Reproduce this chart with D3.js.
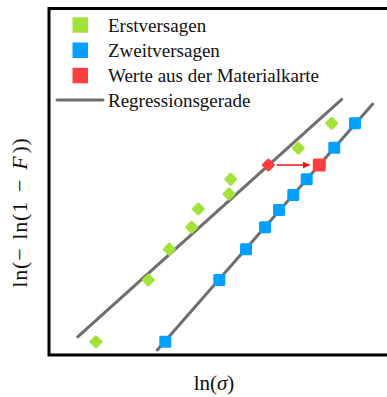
<!DOCTYPE html>
<html>
<head>
<meta charset="utf-8">
<script src="https://cdn.jsdelivr.net/npm/d3@7"></script>
<style>
  html, body { margin: 0; padding: 0; background: #fff; }
  svg { display: block; }
</style>
</head>
<body>
<script>
// Weibull plot: ln(-ln(1-F)) over ln(sigma), arbitrary units (no ticks)
const erstX = [14.16, 29.59, 35.78, 42.39, 44.34, 53.39, 53.89, 73.84, 83.69];
const erstY = [3.55, 21.39, 30.26, 36.62, 41.91, 46.24, 50.49, 59.45, 66.68];
const zweitX = [34.60, 50.53, 58.41, 64.01, 68.14, 72.36, 76.31, 84.45, 90.56];
const zweitY = [3.55, 21.39, 30.26, 36.62, 41.62, 45.95, 50.49, 59.62, 66.68];
const karteX = [64.99, 80.03];
const karteY = [54.62, 54.62];
// regression lines, end points
const regErstX = [8.76, 86.64];
const regErstY = [4.97, 73.61];
const regZweitX = [32.24, 95.78];
const regZweitY = [1.16, 72.25];

const legendLabels = ["Erstversagen", "Zweitversagen", "Werte aus der Materialkarte", "Regressionsgerade"];
const colors = { erst: "#a2e23a", zweit: "#03a1fd", karte: "#fd3f40", reg: "#6e6e6e" };

const W = 387, H = 397;
const svg = d3.select("body").append("svg").attr("width", W).attr("height", H);

const x = d3.scaleLinear().domain([0, 100]).range([48, 387]);
const y = d3.scaleLinear().domain([0, 100]).range([354, 8]);

const defs = svg.append("defs");
defs.append("marker")
  .attr("id", "arrow").attr("viewBox", "0 0 10 10")
  .attr("refX", 10).attr("refY", 5)
  .attr("markerWidth", 7).attr("markerHeight", 7)
  .attr("markerUnits", "userSpaceOnUse")
  .attr("orient", "auto")
  .append("path").attr("d", "M0,0 L10,5 L0,10 Z").attr("fill", "#f01010");

// regression lines
const line = d3.line().x(d => x(d[0])).y(d => y(d[1]));
[[regErstX, regErstY], [regZweitX, regZweitY]].forEach(([xs, ys]) => {
  svg.append("path")
    .attr("d", line(d3.zip(xs, ys)))
    .attr("stroke", colors.reg).attr("stroke-width", 3)
    .attr("stroke-linecap", "round").attr("fill", "none");
});

// first failures: diamonds
svg.append("g").selectAll("rect")
  .data(d3.zip(erstX, erstY))
  .join("rect")
  .attr("x", -5).attr("y", -5).attr("width", 10).attr("height", 10)
  .attr("rx", 1.5)
  .attr("transform", d => `translate(${x(d[0])},${y(d[1])}) rotate(45)`)
  .attr("fill", colors.erst);

// second failures: squares
svg.append("g").selectAll("rect")
  .data(d3.zip(zweitX, zweitY))
  .join("rect")
  .attr("x", d => x(d[0]) - 6).attr("y", d => y(d[1]) - 6)
  .attr("width", 12).attr("height", 12).attr("rx", 1.5)
  .attr("fill", colors.zweit);

// material card values: diamond (first) and square (second)
const karte = d3.zip(karteX, karteY);
svg.append("rect")
  .attr("x", -5).attr("y", -5).attr("width", 10).attr("height", 10).attr("rx", 1.5)
  .attr("transform", `translate(${x(karte[0][0])},${y(karte[0][1])}) rotate(45)`)
  .attr("fill", colors.karte);
svg.append("rect")
  .attr("x", x(karte[1][0]) - 6.5).attr("y", y(karte[1][1]) - 6.5)
  .attr("width", 13).attr("height", 13).attr("rx", 1.5)
  .attr("fill", colors.karte);

// shift arrow between the two red marks
svg.append("line")
  .attr("x1", x(karte[0][0]) + 8.5).attr("y1", y(karte[0][1]))
  .attr("x2", x(karte[1][0]) - 9.5).attr("y2", y(karte[1][1]))
  .attr("stroke", "#f01010").attr("stroke-width", 1.6)
  .attr("marker-end", "url(#arrow)");

// frame: left, top and bottom edges
svg.append("path")
  .attr("d", `M${W + 2},8.5 H49 V355 H${W + 2}`)
  .attr("fill", "none").attr("stroke", "#000").attr("stroke-width", 3)
  .attr("stroke-linejoin", "miter");

// legend
const lg = svg.append("g").attr("font-family", "'Liberation Serif', 'Times New Roman', serif")
  .attr("font-size", 19).attr("fill", "#111");
const legendColors = [colors.erst, colors.zweit, colors.karte];
const rowY = [25.3, 50.5, 75.8, 100];
legendColors.forEach((c, i) => {
  lg.append("rect").attr("x", 72.5).attr("y", rowY[i] - 8).attr("width", 15.5).attr("height", 15.5)
    .attr("fill", c);
});
lg.append("line").attr("x1", 57).attr("x2", 103).attr("y1", rowY[3]).attr("y2", rowY[3])
  .attr("stroke", colors.reg).attr("stroke-width", 3).attr("stroke-linecap", "round");
legendLabels.forEach((t, i) => {
  lg.append("text").attr("x", 108).attr("y", rowY[i] + 6.5).text(t);
});

// axis titles
svg.append("text")
  .attr("x", 214).attr("y", 389.5)
  .attr("text-anchor", "middle")
  .attr("font-family", "'Liberation Serif', 'Times New Roman', serif")
  .attr("font-size", 21).attr("fill", "#111")
  .html('ln(<tspan font-style="italic">σ</tspan>)');

svg.append("text")
  .attr("transform", "translate(27,212.5) rotate(-90)")
  .attr("text-anchor", "middle")
  .attr("font-family", "'Liberation Serif', 'Times New Roman', serif")
  .attr("font-size", 22).attr("fill", "#111")
  .attr("letter-spacing", 0.8)
  .html('ln(−<tspan dx="8">ln(1</tspan><tspan dx="9">−</tspan>'
      + '<tspan dx="9" font-style="italic">F</tspan><tspan dx="2">))</tspan>');
</script>
</body>
</html>
